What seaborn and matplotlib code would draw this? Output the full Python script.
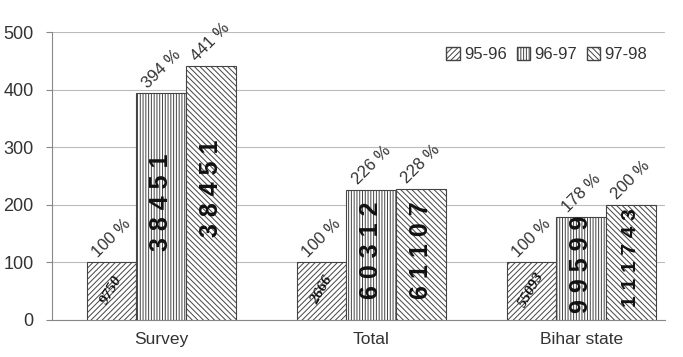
import pandas as pd
import seaborn as sns
import matplotlib.pyplot as plt
from matplotlib.patches import Patch
from matplotlib import font_manager

# --- datos ---
CATEGORIAS = ["Survey", "Total", "Bihar state"]
PERIODOS = ["95-96", "96-97", "97-98"]
PCT_95_96 = [100, 100, 100]
PCT_96_97 = [394, 226, 178]
PCT_97_98 = [441, 228, 200]
VALORES_95_96 = ["9750", "2666", "55093"]
VALORES_96_97 = ["38451", "60312", "99599"]
VALORES_97_98 = ["38451", "61107", "111743"]

HATCHES = {"95-96": "//////", "96-97": "||||||", "97-98": "\\\\\\\\\\\\"}
GRIS = "#333333"

df = pd.DataFrame({
    "cat": CATEGORIAS * 3,
    "periodo": [p for p in PERIODOS for _ in CATEGORIAS],
    "pct": PCT_95_96 + PCT_96_97 + PCT_97_98,
    "valor": VALORES_95_96 + VALORES_96_97 + VALORES_97_98,
})

sns.set_style("white")
plt.rcParams["font.family"] = ["Liberation Sans", "DejaVu Sans"]
plt.rcParams["hatch.linewidth"] = 0.7
plt.rcParams["hatch.color"] = "#444444"

# fuente estrecha para los números dentro de las barras, si existe
try:
    font_manager.findfont("Liberation Sans Narrow", fallback_to_default=False)
    NARROW = "Liberation Sans Narrow"
except Exception:
    NARROW = "Liberation Sans"

fig = plt.figure(figsize=(6.83, 3.57), dpi=100)
ax = fig.add_axes([0.076, 0.104, 0.898, 0.806])

sns.barplot(data=df, x="cat", y="pct", hue="periodo", hue_order=PERIODOS,
            order=CATEGORIAS, width=0.71, palette=["white"] * 3,
            edgecolor="#444444", linewidth=0.8, ax=ax, legend=False, zorder=3)

# barras en orden de hue, luego categoría
for i, patch in enumerate(ax.patches[:9]):
    periodo = PERIODOS[i // 3]
    patch.set_hatch(HATCHES[periodo])
    row = df.iloc[i]
    xc = patch.get_x() + patch.get_width() / 2
    h = patch.get_height()
    ax.text(xc, h + 4, f"{row['pct']} %", rotation=45, ha="center", va="bottom",
            fontsize=12, color=GRIS)
    if periodo == "95-96":
        ax.text(xc, h * 0.52, row["valor"], rotation=60, ha="center", va="center",
                fontsize=11, style="italic", fontweight="bold", color="#111111",
                family="Liberation Serif", zorder=5)
    else:
        size = 18 if len(row["valor"]) <= 5 else 15
        ax.text(xc, h / 2 + 8, " ".join(row["valor"]), rotation=90, ha="center",
                va="center", fontsize=size, fontweight="bold", color="#111111",
                family=NARROW, zorder=5)

ax.set_ylim(0, 500)
ax.set_xlim(-0.52, 2.40)
ax.set_yticks(range(0, 501, 100))
ax.yaxis.grid(True, color="#bbbbbb", linewidth=0.8, zorder=0)
ax.set_xlabel("")
ax.set_ylabel("")
ax.tick_params(axis="y", labelsize=13, labelcolor=GRIS, left=True, length=4,
               color="#888888", pad=9)
ax.tick_params(axis="x", labelsize=12.5, labelcolor=GRIS, bottom=False, pad=5)
for s in ["top", "right"]:
    ax.spines[s].set_visible(False)
ax.spines["left"].set_color("#888888")
ax.spines["bottom"].set_color("#888888")

handles = [Patch(facecolor="white", edgecolor="#444444", hatch=HATCHES[p], label=p)
           for p in PERIODOS]
ax.legend(handles=handles, loc="upper right", bbox_to_anchor=(0.995, 1.0), ncol=3,
          frameon=False, fontsize=12, handlelength=0.8, handleheight=0.8,
          handletextpad=0.25, columnspacing=0.6, labelcolor=GRIS)

fig.savefig("out.png", dpi=100)
